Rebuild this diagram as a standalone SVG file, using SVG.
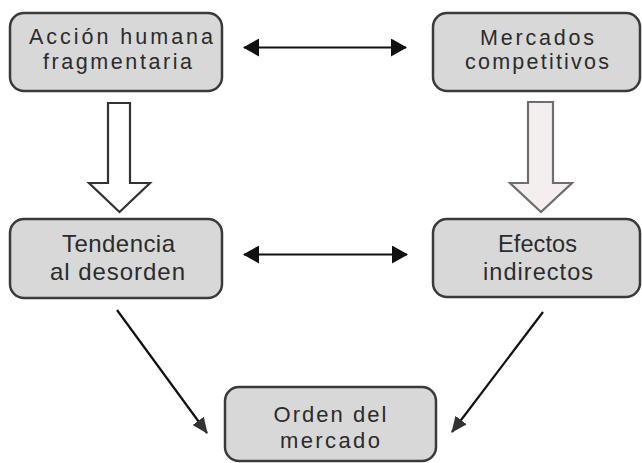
<svg xmlns="http://www.w3.org/2000/svg" width="642" height="463" viewBox="0 0 642 463">
<style>
.box{fill:#d9d8d8;stroke:#3a3a3a;stroke-width:2.5}
.t{font-family:"Liberation Sans","Arial",sans-serif;fill:#2b2b2b;text-anchor:middle}
.conn{stroke:#111;stroke-width:2.2;fill:none}
</style>
<defs>
<marker id="ah" markerWidth="16" markerHeight="18" refX="15" refY="9" orient="auto-start-reverse" markerUnits="userSpaceOnUse">
<path d="M0,0 L16,9 L0,18 Z" fill="#111"/>
</marker>
<marker id="ah2" markerWidth="16" markerHeight="14" refX="15" refY="7" orient="auto" markerUnits="userSpaceOnUse">
<path d="M0,0 L16,7 L0,14 Z" fill="#333"/>
</marker>
</defs>
<rect width="642" height="463" fill="#fff"/>
<g id="n1">
<rect class="box" x="10" y="13" width="212" height="78" rx="14"/>
<text class="t" x="121" y="44" font-size="21.5" textLength="184">Acción humana</text>
<text class="t" x="117.5" y="69" font-size="21.5" textLength="149">fragmentaria</text>
</g>
<g id="n2">
<rect class="box" x="433" y="13" width="207" height="78" rx="14"/>
<text class="t" x="537" y="45" font-size="21.5" textLength="114">Mercados</text>
<text class="t" x="537" y="69" font-size="21.5" textLength="144">competitivos</text>
</g>
<g id="n3">
<rect class="box" x="10" y="219" width="212" height="79" rx="14"/>
<text class="t" x="118.5" y="252" font-size="24" textLength="113">Tendencia</text>
<text class="t" x="117.5" y="280" font-size="24" textLength="135">al desorden</text>
</g>
<g id="n4">
<rect class="box" x="433" y="219" width="207" height="78" rx="14"/>
<text class="t" x="537.5" y="252" font-size="23.5" textLength="79">Efectos</text>
<text class="t" x="538" y="280" font-size="23.5" textLength="110">indirectos</text>
</g>
<g id="n5">
<rect class="box" x="225" y="387" width="211" height="74" rx="14"/>
<text class="t" x="330" y="422" font-size="22" textLength="113">Orden del</text>
<text class="t" x="330" y="448" font-size="22" textLength="100">mercado</text>
</g>
<g id="connectors">
<line class="conn" x1="244" y1="47.5" x2="406" y2="47.5" marker-start="url(#ah)" marker-end="url(#ah)"/>
<line class="conn" x1="244" y1="254.5" x2="407" y2="254.5" marker-start="url(#ah)" marker-end="url(#ah)"/>
<polygon points="108,103 130,103 130,183 150,183 119.5,212 89,183 108,183" fill="#fff" stroke="#333" stroke-width="2.2" stroke-linejoin="miter"/>
<polygon points="528,102 553,102 553,183 572,183 541,212 510,183 528,183" fill="#f4eeee" stroke="#6e6e6e" stroke-width="2.2"/>
<line class="conn" x1="117" y1="310" x2="207" y2="433" stroke="#222" stroke-width="1.8" marker-end="url(#ah2)"/>
<line class="conn" x1="543" y1="312" x2="452" y2="432" stroke="#222" stroke-width="1.8" marker-end="url(#ah2)"/>
</g>
</svg>
